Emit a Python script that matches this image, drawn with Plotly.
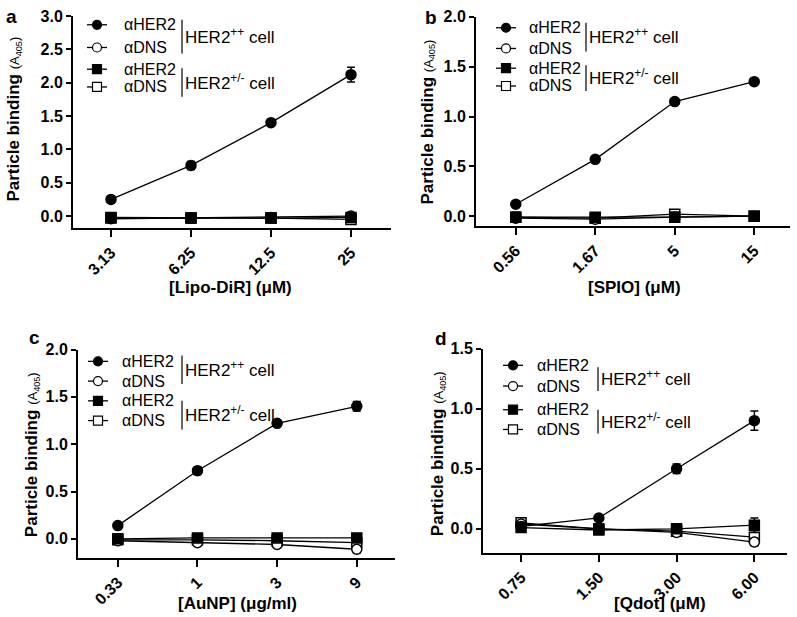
import plotly.graph_objects as go

W, H = 797, 617

# ---------------- data ----------------
cat_a = ["3.13", "6.25", "12.5", "25"]
a_her2_pp = [0.25, 0.76, 1.40, 2.12]
a_her2_pp_err = [0.02, 0.06, 0.04, 0.11]
a_dns_pp = [-0.04, -0.03, -0.02, 0.00]
a_dns_pp_err = [0.03, 0.02, 0.02, 0.02]
a_her2_pm = [-0.02, -0.03, -0.03, -0.02]
a_her2_pm_err = [0.06, 0.05, 0.05, 0.03]
a_dns_pm = [-0.03, -0.03, -0.03, -0.05]
a_dns_pm_err = [0.02, 0.02, 0.02, 0.03]

cat_b = ["0.56", "1.67", "5", "15"]
b_her2_pp = [0.12, 0.57, 1.15, 1.35]
b_her2_pp_err = [0.01, 0.02, 0.02, 0.02]
b_dns_pp = [-0.02, -0.03, -0.01, 0.00]
b_dns_pp_err = [0.02, 0.02, 0.02, 0.02]
b_her2_pm = [-0.01, -0.01, -0.01, 0.00]
b_her2_pm_err = [0.05, 0.03, 0.05, 0.02]
b_dns_pm = [-0.01, -0.02, 0.02, 0.00]
b_dns_pm_err = [0.02, 0.02, 0.02, 0.02]

cat_c = ["0.33", "1", "3", "9"]
c_her2_pp = [0.14, 0.72, 1.22, 1.40]
c_her2_pp_err = [0.01, 0.04, 0.03, 0.05]
c_dns_pp = [-0.02, -0.04, -0.06, -0.11]
c_dns_pp_err = [0.02, 0.02, 0.02, 0.04]
c_her2_pm = [0.00, 0.01, 0.01, 0.01]
c_her2_pm_err = [0.01, 0.01, 0.01, 0.01]
c_dns_pm = [-0.01, -0.01, -0.02, -0.04]
c_dns_pm_err = [0.02, 0.02, 0.02, 0.02]

cat_d = ["0.75", "1.50", "3.00", "6.00"]
d_her2_pp = [0.02, 0.09, 0.50, 0.90]
d_her2_pp_err = [0.01, 0.01, 0.04, 0.08]
d_dns_pp = [0.04, 0.00, -0.03, -0.11]
d_dns_pp_err = [0.02, 0.02, 0.02, 0.03]
d_her2_pm = [0.01, -0.01, 0.00, 0.03]
d_her2_pm_err = [0.01, 0.01, 0.01, 0.06]
d_dns_pm = [0.05, 0.00, -0.02, -0.07]
d_dns_pm_err = [0.02, 0.02, 0.03, 0.03]

x_titles = ["[Lipo-DiR] (μM)", "[SPIO] (μM)", "[AuNP] (μg/ml)", "[Qdot] (μM)"]
letters = ["a", "b", "c", "d"]
leg_labels = ["αHER2", "αDNS", "αHER2", "αDNS"]
group_labels = ["HER2<sup>++</sup> cell", "HER2<sup>+/-</sup> cell"]

panels_data = [
    (cat_a, [(a_dns_pm, a_dns_pm_err), (a_dns_pp, a_dns_pp_err), (a_her2_pm, a_her2_pm_err), (a_her2_pp, a_her2_pp_err)]),
    (cat_b, [(b_dns_pm, b_dns_pm_err), (b_dns_pp, b_dns_pp_err), (b_her2_pm, b_her2_pm_err), (b_her2_pp, b_her2_pp_err)]),
    (cat_c, [(c_dns_pm, c_dns_pm_err), (c_dns_pp, c_dns_pp_err), (c_her2_pm, c_her2_pm_err), (c_her2_pp, c_her2_pp_err)]),
    (cat_d, [(d_dns_pm, d_dns_pm_err), (d_dns_pp, d_dns_pp_err), (d_her2_pm, d_her2_pm_err), (d_her2_pp, d_her2_pp_err)]),
]

# ---------------- layout (pixels) ----------------
boxes = [(73, 8, 391, 223), (476, 9, 790, 221), (78, 346, 395, 557), (483, 345, 787, 552)]
yranges = [[-0.18, 3.0], [-0.1, 2.0], [-0.2, 2.0], [-0.2, 1.5]]
xranges = [[-0.475, 3.5], [-0.5, 3.45], [-0.5, 3.48], [-0.49, 3.42]]
xtitle_pos = [(230, 283), (634, 283), (237, 603), (660, 603)]
ytitle_pos = [(14, 113), (428, 116), (32, 453), (438, 452)]
letter_pos = [(11, 9), (431, 10), (34, 334), (441, 335)]
# legend: marker x, rows y, text x, bracket x, bracket spans
legends = [
    dict(mx=97, rows=[17, 40, 62, 80], tx=123, bx=182, spans=[(12, 46), (61, 90)]),
    dict(mx=506, rows=[20, 41, 61, 79], tx=528, bx=586, spans=[(15, 44), (58, 84)]),
    dict(mx=98, rows=[358, 378, 398, 418], tx=121, bx=182, spans=[(352, 381), (398, 427)]),
    dict(mx=513, rows=[362, 383, 407, 427], tx=536, bx=598, spans=[(364, 388), (407, 431)]),
]

FONT = "Liberation Sans, Arial, sans-serif"
styles = [  # drawn in this order: aDNS +/-, aDNS ++, aHER2 +/-, aHER2 ++
    dict(symbol="square", color="white"),
    dict(symbol="circle", color="white"),
    dict(symbol="square", color="black"),
    dict(symbol="circle", color="black"),
]
leg_styles = [styles[3], styles[1], styles[2], styles[0]]


def px(x):
    return x / W


def py(y):
    return 1 - y / H


fig = go.Figure()
annotations = []
shapes = []

for i, (cats, series) in enumerate(panels_data):
    n = "" if i == 0 else str(i + 1)
    x0, y0, x1, y1 = boxes[i]
    for (vals, errs), st in zip(series, styles):
        fig.add_trace(go.Scatter(
            x=cats, y=vals, xaxis="x" + n, yaxis="y" + n, mode="lines+markers",
            line=dict(color="black", width=1.3),
            marker=dict(symbol=st["symbol"], color=st["color"], size=10,
                        line=dict(color="black", width=1.5)),
            error_y=dict(type="data", array=errs, visible=True, color="black",
                         thickness=1.5, width=4),
            showlegend=False, cliponaxis=False,
        ))
    fig.layout["xaxis" + n] = dict(
        domain=[px(x0), px(x1)], anchor="y" + n, type="category", range=xranges[i],
        tickmode="array", tickvals=cats, ticktext=cats, tickangle=-45,
        showline=True, linecolor="black", linewidth=2, ticks="outside",
        ticklen=7, tickwidth=1.5, tickcolor="black", showgrid=False, zeroline=False,
        tickfont=dict(family=FONT, size=16, color="black", weight="bold"),
    )
    fig.layout["yaxis" + n] = dict(
        domain=[py(y1), py(y0)], anchor="x" + n, range=yranges[i], dtick=0.5,
        tick0=0, tickformat=".1f",
        showline=True, linecolor="black", linewidth=2, ticks="outside",
        ticklen=5, tickwidth=2, tickcolor="black", showgrid=False, zeroline=False,
        tickfont=dict(family=FONT, size=16, color="black", weight="bold"),
    )
    # axis titles
    annotations.append(dict(
        x=px(xtitle_pos[i][0]), y=py(xtitle_pos[i][1]), xref="paper", yref="paper",
        text="<b>" + x_titles[i] + "</b>", showarrow=False, xanchor="center", yanchor="middle",
        font=dict(family=FONT, size=17, color="black")))
    annotations.append(dict(
        x=px(ytitle_pos[i][0]), y=py(ytitle_pos[i][1]), xref="paper", yref="paper",
        text="<b>Particle binding</b> <span style='font-size:13px'>(A<sub>405</sub>)</span>",
        showarrow=False, textangle=-90, xanchor="center", yanchor="middle",
        font=dict(family=FONT, size=17, color="black")))
    annotations.append(dict(
        x=px(letter_pos[i][0]), y=py(letter_pos[i][1]), xref="paper", yref="paper",
        text="<b>" + letters[i] + "</b>", showarrow=False, xanchor="center", yanchor="middle",
        font=dict(family=FONT, size=19, color="black")))
    # legend
    L = legends[i]
    for r, (ry, st, lab) in enumerate(zip(L["rows"], leg_styles, leg_labels)):
        shapes.append(dict(type="line", xref="paper", yref="paper",
                           x0=px(L["mx"] - 10), x1=px(L["mx"] + 10), y0=py(ry), y1=py(ry),
                           line=dict(color="black", width=1.3)))
        shapes.append(dict(type="circle" if st["symbol"] == "circle" else "rect",
                           xref="paper", yref="paper", xsizemode="pixel", ysizemode="pixel",
                           xanchor=px(L["mx"]), yanchor=py(ry), x0=-4.5, x1=4.5, y0=-4.5, y1=4.5,
                           fillcolor=st["color"], line=dict(color="black", width=1.2)))
        annotations.append(dict(
            x=px(L["tx"]), y=py(ry), xref="paper", yref="paper", text=lab,
            showarrow=False, xanchor="left", yanchor="middle", borderpad=0,
            font=dict(family=FONT, size=16, color="black")))
    for g, (s0, s1) in enumerate(L["spans"]):
        shapes.append(dict(type="line", xref="paper", yref="paper",
                           x0=px(L["bx"]), x1=px(L["bx"]), y0=py(s0), y1=py(s1),
                           line=dict(color="black", width=1.2)))
        annotations.append(dict(
            x=px(L["bx"] + 2), y=py((s0 + s1) / 2 - 1), xref="paper", yref="paper",
            text=group_labels[g], showarrow=False, xanchor="left", yanchor="middle",
            borderpad=0, font=dict(family=FONT, size=17, color="black")))

fig.update_layout(
    width=W, height=H, margin=dict(l=0, r=0, t=0, b=0),
    paper_bgcolor="white", plot_bgcolor="white",
    annotations=annotations, shapes=shapes, showlegend=False,
    font=dict(family=FONT, color="black"),
)
fig.write_html("out.html", config={"displayModeBar": False},
               post_script="document.body.style.margin='0';document.body.style.overflow='hidden';")
